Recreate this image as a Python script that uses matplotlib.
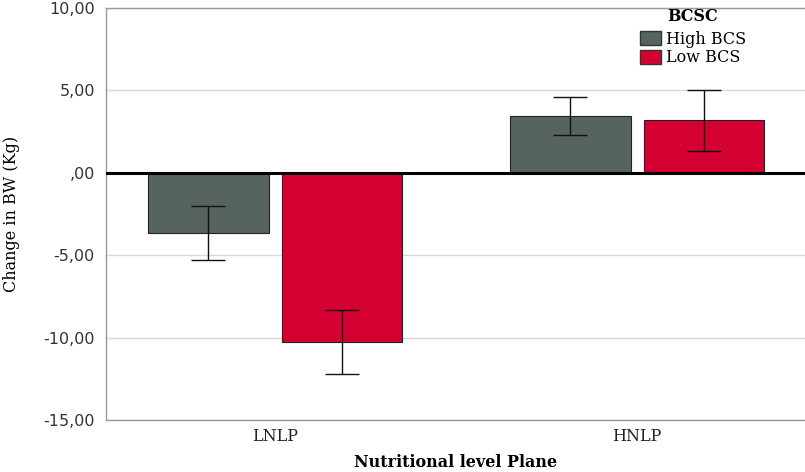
import numpy as np
import matplotlib
matplotlib.use("Agg")
import matplotlib.pyplot as plt
from matplotlib.patches import Patch

# data
groups = ["LNLP", "HNLP"]
series = ["High BCS", "Low BCS"]
high_mean = [-3.65, 3.45]
high_lo = [-5.3, 2.3]
high_hi = [-2.0, 4.6]
low_mean = [-10.25, 3.2]
low_lo = [-12.2, 1.35]
low_hi = [-8.35, 5.0]
yticks = [10, 5, 0, -5, -10, -15]
ytick_labels = ["10,00", "5,00", ",00", "-5,00", "-10,00", "-15,00"]

col_high = "#57635e"
col_low = "#d50032"

fig = plt.figure(figsize=(8.05, 4.72), dpi=100)
ax = fig.add_axes([0.1317, 0.1102, 0.8683, 0.8729])

x = np.arange(len(groups))
w = 0.334
off = 0.185

# grid
for t in yticks:
    ax.axhline(t, color="#d9d9d9", lw=1, zorder=0)

for means, lo, hi, col, sgn in [(high_mean, high_lo, high_hi, col_high, -1),
                                (low_mean, low_lo, low_hi, col_low, 1)]:
    xs = x + sgn * off
    ax.bar(xs, means, width=w, color=col, edgecolor="#222222", lw=0.8, zorder=2)
    means = np.array(means)
    err = [means - np.array(lo), np.array(hi) - means]
    ax.errorbar(xs, means, yerr=err, fmt="none", ecolor="#111111",
                elinewidth=1, capsize=12.5, capthick=1, zorder=3)

ax.axhline(0, color="black", lw=2.2, zorder=4)

ax.set_xlim(-0.467, 1.464)
ax.set_ylim(-15, 10)
ax.set_yticks(yticks)
ax.set_yticklabels(ytick_labels, fontsize=11.5, color="#333333",
                   fontfamily="DejaVu Sans")
ax.set_xticks(x)
ax.set_xticklabels(groups, fontsize=11.5, fontfamily="DejaVu Serif", color="#222222")
ax.tick_params(axis="both", length=0, pad=8)
ax.tick_params(axis="x", pad=6)

for s in ["left", "bottom", "top"]:
    ax.spines[s].set_color("#999999")
    ax.spines[s].set_linewidth(1)
ax.spines["right"].set_visible(False)

ax.set_ylabel("Change in BW (Kg)", fontsize=11.5, fontfamily="DejaVu Serif")
ax.yaxis.set_label_coords(-0.123, 0.5)
ax.set_xlabel("Nutritional level Plane", fontsize=11.5, fontweight="bold",
              fontfamily="DejaVu Serif")
ax.xaxis.set_label_coords(0.5, -0.083)

handles = [Patch(facecolor=col_high, edgecolor="#333333", label=series[0]),
           Patch(facecolor=col_low, edgecolor="#333333", label=series[1])]
leg = ax.legend(handles=handles, title="BCSC", loc="upper left",
                bbox_to_anchor=(0.755, 1.015), frameon=False,
                prop={"family": "DejaVu Serif", "size": 11.5},
                handlelength=1.3, handleheight=1.0, handletextpad=0.3,
                labelspacing=0.1, borderaxespad=0.0)
leg.get_title().set_fontweight("bold")
leg.get_title().set_fontfamily("DejaVu Serif")
leg.get_title().set_fontsize(11.5)
leg._legend_box.sep = 4

fig.savefig("out.png", dpi=100)
